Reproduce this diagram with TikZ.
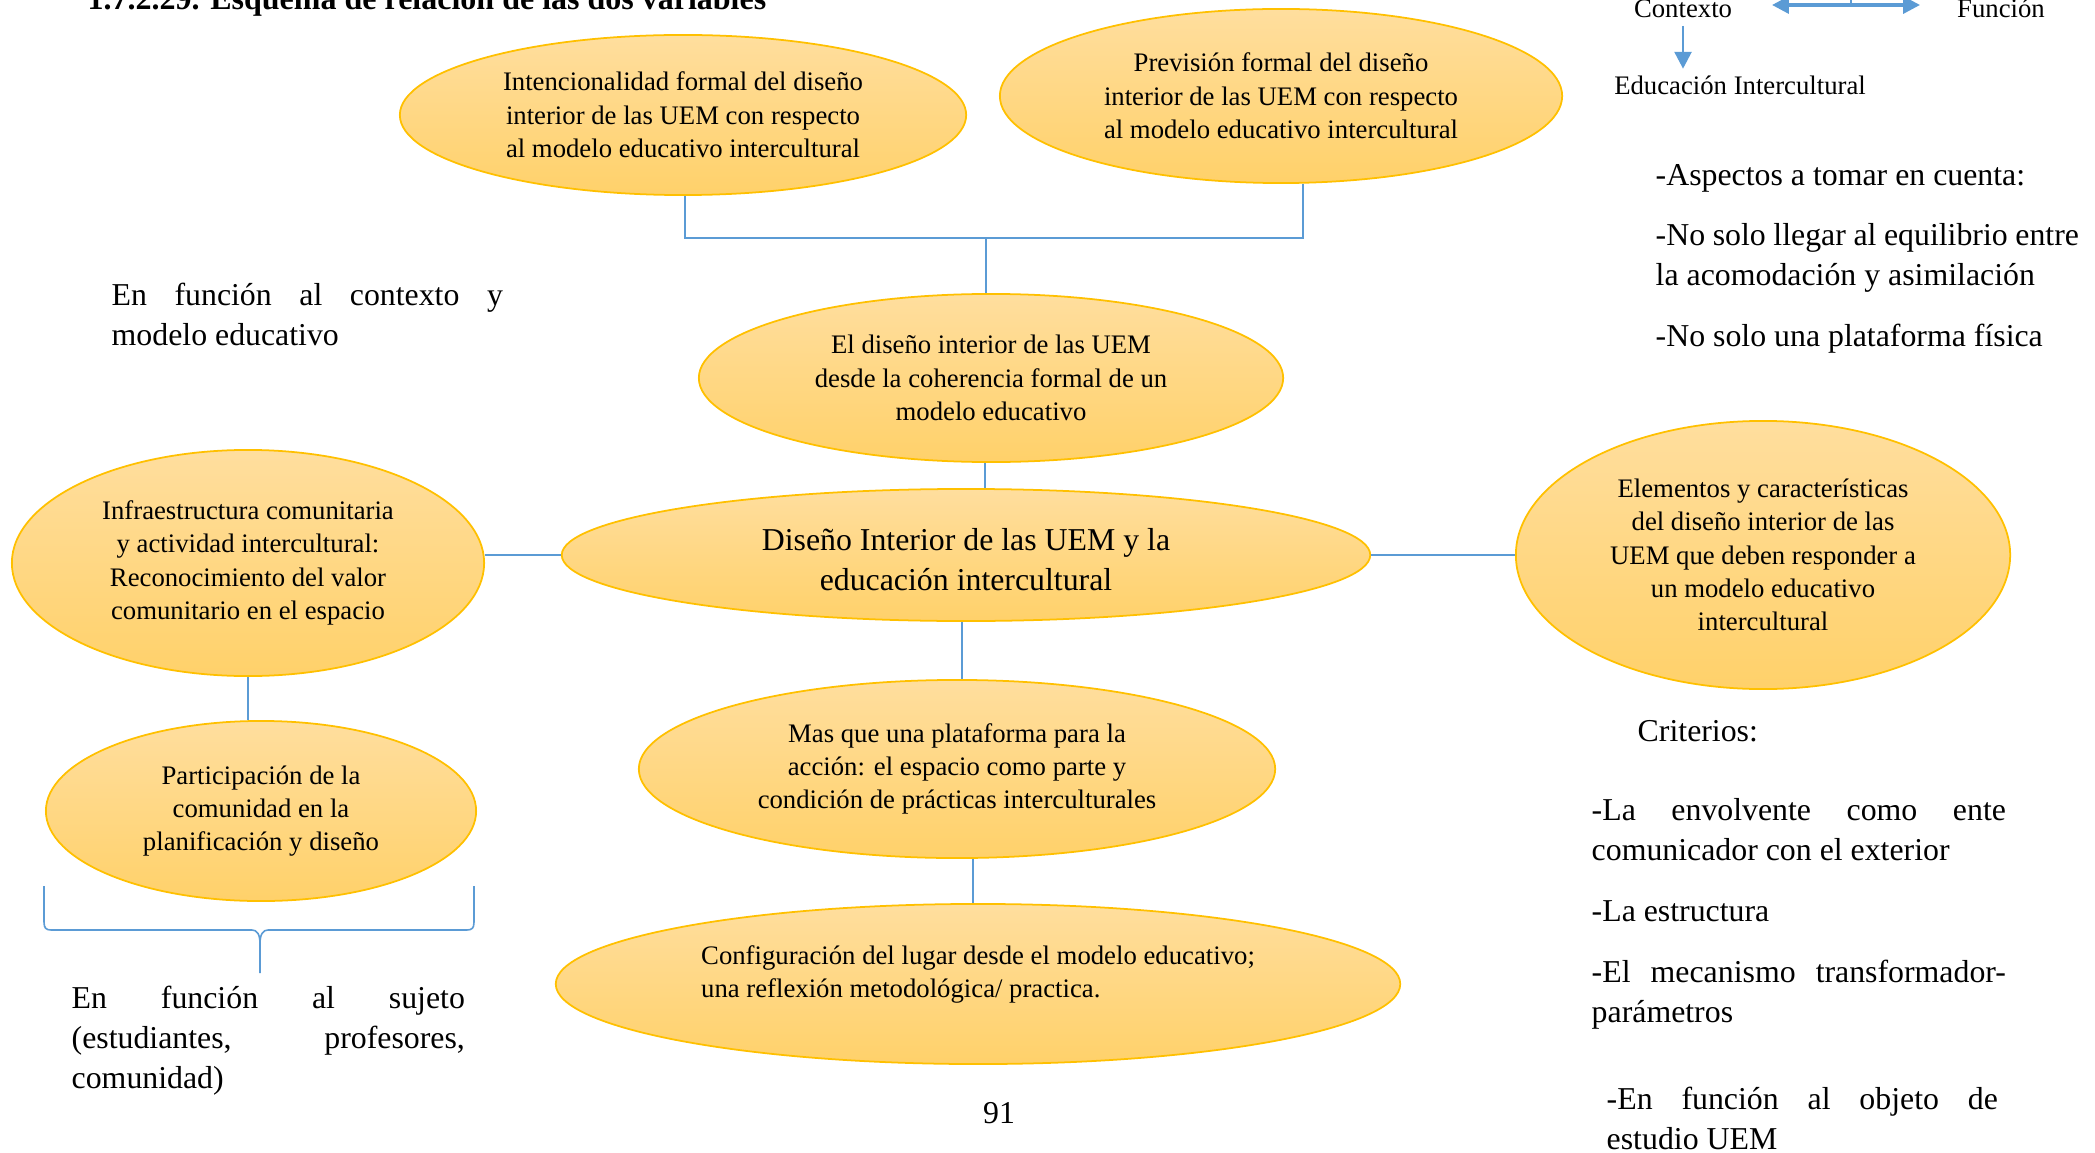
\documentclass[tikz,border=0pt]{standalone}
\usepackage{fontspec}
\setmainfont{Liberation Serif}
\usetikzlibrary{shapes.geometric,arrows.meta}

\definecolor{goldtop}{HTML}{FFDE9E}
\definecolor{goldbot}{HTML}{FFD16A}
\definecolor{goldline}{HTML}{FFC000}
\definecolor{linkblue}{HTML}{5B9BD5}

\newcommand{\diagsmall}{\fontsize{7.6}{9.5}\selectfont}
\newcommand{\diagbody}{\fontsize{9.05}{11.4}\selectfont}
\newcommand{\diagtitle}{\fontsize{9.1}{11}\selectfont\bfseries}

\tikzset{
  bubble/.style={ellipse, draw=goldline, line width=0.5pt,
    top color=goldtop, bottom color=goldbot,
    inner sep=0pt, align=center, font=\diagsmall},
  link/.style={draw=linkblue, line width=0.45pt},
  note/.style={inner sep=0pt, align=left, font=\diagbody},
  tag/.style={inner sep=0pt, font=\diagsmall},
  bluearrow/.style={draw=linkblue, line width=1pt},
  bluetip/.tip={Triangle[length=4.8pt,width=4.8pt]}
}

\begin{document}
\begin{tikzpicture}[x=0.01cm,y=-0.01cm]
\clip (0,0) rectangle (2095,1152);
\fill[white] (0,0) rectangle (2095,1152);

% heading
\node[anchor=base west, inner sep=0pt, font=\diagtitle] (title) at (87,10)
  {1.7.2.29. Esquema de relación de las dos variables};

% ellipses
\node[bubble, minimum width=5.66cm, minimum height=1.60cm] (e1) at (683,115)
  {Intencionalidad formal del diseño\\interior de las UEM con respecto\\al modelo educativo intercultural};
\node[bubble, minimum width=5.62cm, minimum height=1.74cm] (e2) at (1281,96)
  {Previsión formal del diseño\\interior de las UEM con respecto\\al modelo educativo intercultural};
\node[bubble, minimum width=5.84cm, minimum height=1.68cm] (e3) at (991,378)
  {El diseño interior de las UEM\\desde la coherencia formal de un\\modelo educativo};
\node[bubble, font=\diagbody, minimum width=8.08cm, minimum height=1.32cm] (e4) at (966,555)
  {\rule{0pt}{9pt}Diseño Interior de las UEM y la\\educación intercultural};
\node[bubble, minimum width=4.72cm, minimum height=2.26cm] (e5) at (248,563)
  {Infraestructura comunitaria\\y actividad intercultural:\\Reconocimiento del valor\\comunitario en el espacio};
\node[bubble, minimum width=4.94cm, minimum height=2.68cm] (e6) at (1763,555)
  {Elementos y características\\del diseño interior de las\\UEM que deben responder a\\un modelo educativo\\intercultural};
\node[bubble, minimum width=4.30cm, minimum height=1.80cm] (e7) at (261,811)
  {Participación de la\\comunidad en la\\planificación y diseño};
\node[bubble, minimum width=6.36cm, minimum height=1.78cm] (e8) at (957,769)
  {Mas que una plataforma para la\\acción: el espacio como parte y\\condición de prácticas interculturales};
\node[bubble, align=left, minimum width=8.44cm, minimum height=1.60cm] (e9) at (978,984)
  {Configuración del lugar desde el modelo educativo;\\una reflexión metodológica/ practica.\\[-2.6pt]\mbox{}};

% connectors
\coordinate (jl) at (685,238);
\coordinate (jm) at (986,238);
\coordinate (jr) at (1303,238);
\draw[link] (jl |- e1.south) -- (jl) -- (jr) -- (jr |- e2.south);
\draw[link] (jm) -- (jm |- e3.north);
\draw[link] (985,0 |- e3.south) -- (985,0 |- e4.north);
\draw[link] (e4.west -| e5.east) -- (e4.west);
\draw[link] (e4.east) -- (e6.west);
\draw[link] (e5.south) -- (e5.south |- e7.north);
\draw[link] (962,0 |- e4.south) -- (962,0 |- e8.north);
\draw[link] (973,0 |- e8.south) -- (973,0 |- e9.north);

% brace under the participation ellipse
\coordinate (bl) at (44,886);
\coordinate (br) at (474,886);
\coordinate (bt) at (260,973);
\draw[link] (bl) -- (44,922) .. controls (44,928) and (46,930) .. (51,930)
  -- (252,930) .. controls (257,930) and (260,934) .. (260,944) -- (bt);
\draw[link] (260,944) .. controls (260,934) and (263,930) .. (268,930)
  -- (467,930) .. controls (472,930) and (474,928) .. (474,922) -- (br);

% side notes
\node[note, anchor=west] (n1) at (111,314)
  {\makebox[3.91cm][s]{En función al contexto y}\\modelo educativo};
\node[note, anchor=west] (n2) at (71,1041)
  {\makebox[3.93cm][s]{En función al sujeto}\\\makebox[3.93cm][s]{(estudiantes, profesores,}\\comunidad)};
\node[note, anchor=center] (page) at (999,1113) {91};

\node[note, anchor=west] (r1) at (1655,178) {-Aspectos a tomar en cuenta:};
\node[note, anchor=west] (r2) at (1655,258)
  {\makebox[4.23cm][s]{-No solo llegar al equilibrio entre}\\la acomodación y asimilación};
\node[note, anchor=west] (r3) at (1655,339) {-No solo una plataforma física};
\node[note, anchor=west] (r4) at (1637,731) {Criterios:};
\node[note, anchor=west] (r5) at (1591,830)
  {\makebox[4.14cm][s]{-La envolvente como ente}\\comunicador con el exterior};
\node[note, anchor=west] (r6) at (1591,911) {-La estructura};
\node[note, anchor=west] (r7) at (1591,995)
  {\makebox[4.14cm][s]{-El mecanismo transformador-}\\parámetros};
\node[note, anchor=west] (r8) at (1606,1118)
  {\makebox[3.91cm][s]{-En función al objeto de}\\estudio UEM};

% context / function legend
\node[tag, anchor=base] (ctx) at (1683,18) {Contexto};
\node[tag, anchor=base] (fun) at (2001,18) {Función};
\node[tag, anchor=base] (edu) at (1740,95) {Educación Intercultural};
\coordinate (al) at (1772,5);
\coordinate (ar) at (1920,5);
\coordinate (am) at (1851,5);
\draw[bluearrow, bluetip-bluetip] (al) -- (ar);
\draw[link, line width=0.5pt] (am) -- (1851,-5);
\draw[bluearrow, line width=0.8pt, -bluetip, shorten <=0.07cm, shorten >=0.07cm] (ctx.south) -- (ctx.south |- edu.north);
\end{tikzpicture}
\end{document}
